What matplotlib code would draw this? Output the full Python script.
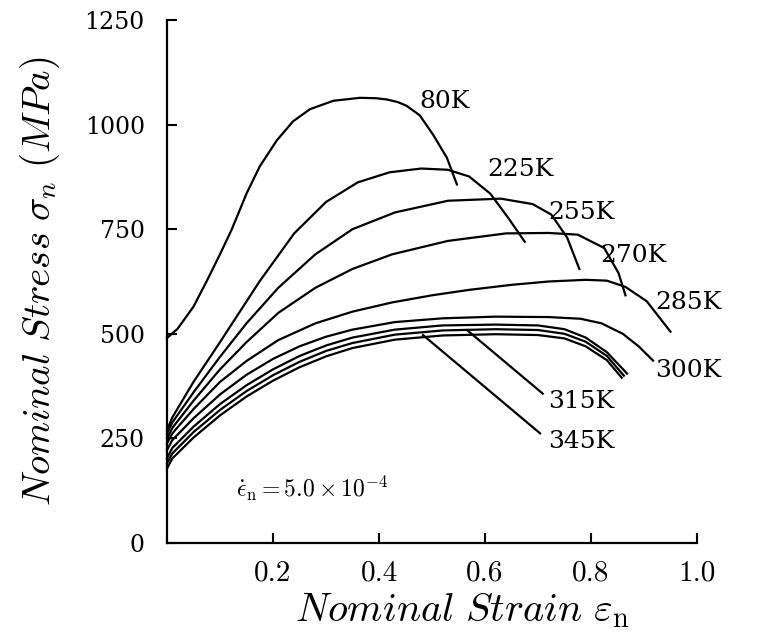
import matplotlib
matplotlib.use("Agg")
import matplotlib.pyplot as plt

plt.rcParams['mathtext.fontset'] = 'cm'

# ---------------- data ----------------
strain_80K  = [0, 0.02, 0.05, 0.075, 0.10, 0.122, 0.15, 0.175, 0.207, 0.238, 0.27, 0.314,
               0.364, 0.395, 0.415, 0.435, 0.452, 0.477, 0.502, 0.528, 0.547]
stress_80K  = [490, 512, 565, 626, 690, 749, 835, 900, 962, 1008, 1037, 1057,
               1064, 1063, 1060, 1054, 1045, 1022, 976, 921, 857]

strain_225K = [0, 0.01, 0.05, 0.10, 0.175, 0.24, 0.30, 0.36, 0.42, 0.48, 0.53, 0.57, 0.61, 0.645, 0.675]
stress_225K = [270, 300, 385, 480, 626, 740, 815, 862, 886, 895, 892, 876, 835, 775, 720]

strain_255K = [0, 0.01, 0.05, 0.10, 0.15, 0.21, 0.28, 0.35, 0.43, 0.53, 0.63, 0.69, 0.725, 0.755, 0.778]
stress_255K = [262, 288, 360, 445, 525, 610, 690, 750, 790, 818, 823, 810, 785, 730, 655]

strain_270K = [0, 0.01, 0.05, 0.10, 0.15, 0.21, 0.28, 0.35, 0.425, 0.53, 0.64, 0.72, 0.775, 0.825, 0.852, 0.865]
stress_270K = [250, 275, 340, 415, 480, 550, 610, 655, 690, 722, 740, 741, 737, 705, 645, 592]

strain_285K = [0, 0.01, 0.05, 0.10, 0.15, 0.21, 0.28, 0.35, 0.425, 0.50, 0.57, 0.65, 0.72, 0.79,
               0.83, 0.865, 0.905, 0.95]
stress_285K = [238, 262, 320, 385, 435, 485, 525, 553, 575, 592, 605, 617, 625, 629,
               627, 612, 578, 505]

strain_300K = [0, 0.01, 0.05, 0.10, 0.15, 0.20, 0.25, 0.30, 0.35, 0.43, 0.52, 0.62, 0.72, 0.78,
               0.82, 0.86, 0.89, 0.917]
stress_300K = [222, 246, 298, 355, 402, 440, 470, 493, 510, 528, 537, 541, 540, 536,
               525, 500, 470, 436]

strain_315K = [0, 0.01, 0.05, 0.10, 0.15, 0.20, 0.25, 0.30, 0.35, 0.43, 0.52, 0.62, 0.70, 0.75,
               0.79, 0.83, 0.868]
stress_315K = [203, 227, 278, 332, 377, 415, 447, 472, 491, 510, 520, 522, 520, 511,
               491, 456, 405]

strain_330K = [0, 0.01, 0.05, 0.10, 0.15, 0.20, 0.25, 0.30, 0.35, 0.43, 0.52, 0.62, 0.70, 0.75,
               0.79, 0.83, 0.862]
stress_330K = [190, 214, 265, 318, 363, 401, 433, 459, 478, 498, 508, 511, 509, 500,
               481, 447, 400]

strain_345K = [0, 0.01, 0.05, 0.10, 0.15, 0.20, 0.25, 0.30, 0.35, 0.43, 0.52, 0.62, 0.70, 0.75,
               0.79, 0.83, 0.858]
stress_345K = [178, 202, 252, 305, 350, 388, 420, 446, 466, 486, 496, 499, 497, 489,
               470, 437, 395]

curves = [
    (strain_80K, stress_80K), (strain_225K, stress_225K), (strain_255K, stress_255K),
    (strain_270K, stress_270K), (strain_285K, stress_285K), (strain_300K, stress_300K),
    (strain_315K, stress_315K), (strain_330K, stress_330K), (strain_345K, stress_345K),
]

# direct labels (left edge, vertical centre)
label_text   = ["80K", "225K", "255K", "270K", "285K", "300K"]
label_strain = [0.477, 0.604, 0.719, 0.817, 0.921, 0.921]
label_stress = [1055, 893, 790, 688, 576, 412]

# labels with leader lines
leader_text   = ["315K", "345K"]
leader_from_e = [0.566, 0.483]
leader_from_s = [509, 497]
leader_to_e   = [0.709, 0.704]
leader_to_s   = [357, 262]
leader_lab_e  = [0.719, 0.719]
leader_lab_s  = [338, 243]

x_ticks = [0.2, 0.4, 0.6, 0.8, 1.0]
x_ticklabels = ["0.2", "0.4", "0.6", "0.8", "1.0"]
y_ticks = [0, 250, 500, 750, 1000, 1250]
y_ticklabels = ["0", "250", "500", "750", "1000", "1250"]

# ---------------- figure ----------------
fig = plt.figure(figsize=(7.57, 6.33), dpi=100)
ax = fig.add_axes([167/757, 90/633, 530/757, 523/633])

for e, s in curves:
    ax.plot(e, s, color='black', lw=1.6, solid_joinstyle='round', clip_on=False)

for t, e, s in zip(label_text, label_strain, label_stress):
    ax.text(e, s, t, ha='left', va='center', family='DejaVu Serif', fontsize=18)

for t, e0, s0, e1, s1, le, ls in zip(leader_text, leader_from_e, leader_from_s,
                                     leader_to_e, leader_to_s, leader_lab_e, leader_lab_s):
    ax.plot([e0, e1], [s0, s1], color='black', lw=1.6)
    ax.text(le, ls, t, ha='left', va='center', family='DejaVu Serif', fontsize=18)

ax.text(0.13, 130, r"$\dot{\epsilon}_{\rm n} = \mathbf{5.0} \times \mathbf{10}^{-4}$",
        ha='left', va='center', fontsize=17)

ax.set_xlim(0, 1.0)
ax.set_ylim(0, 1250)
ax.spines['top'].set_visible(False)
ax.spines['right'].set_visible(False)
for sp in ('left', 'bottom'):
    ax.spines[sp].set_linewidth(1.6)

ax.set_xticks(x_ticks)
ax.set_xticklabels(x_ticklabels, fontsize=21, family='cmr10')
ax.set_yticks(y_ticks)
ax.set_yticklabels(y_ticklabels, fontsize=17, family='DejaVu Serif')
ax.tick_params(axis='both', direction='in', length=7, width=1.5)
ax.tick_params(axis='x', pad=12)
ax.tick_params(axis='y', pad=16)

ax.set_xlabel(r"$Nominal\ Strain\ \varepsilon_{\rm n}$", fontsize=29)
ax.xaxis.label.set_verticalalignment('top')
ax.xaxis.set_label_coords(0.557, -0.09)
ax.set_ylabel(r"$Nominal\ Stress\ \sigma_{n}\ (MPa)$", fontsize=28, labelpad=16)

fig.savefig("out.png", dpi=100)
